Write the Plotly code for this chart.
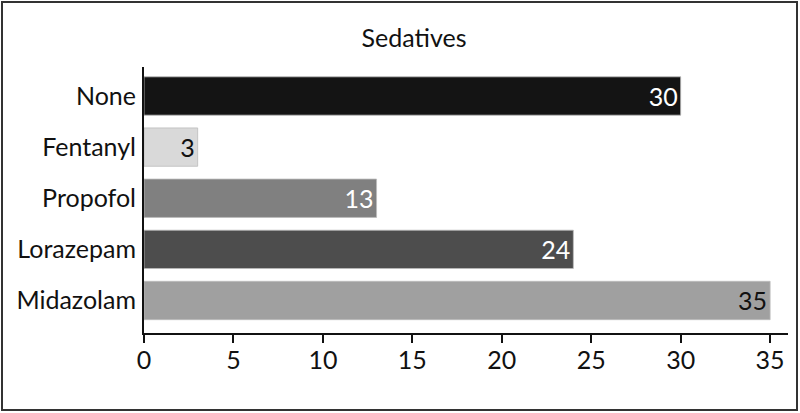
import plotly.graph_objects as go

categories = ["Midazolam", "Lorazepam", "Propofol", "Fentanyl", "None"]
values = [35, 24, 13, 3, 30]
bar_colors = ["#a0a0a0", "#4d4d4d", "#808080", "#d9d9d9", "#141414"]
label_colors = ["#111111", "#ffffff", "#ffffff", "#111111", "#ffffff"]
x_ticks = [0, 5, 10, 15, 20, 25, 30, 35]

W, H = 800, 413
ml, mr, mt, mb = 144, 12, 67, 80
pw, ph = W - ml - mr, H - mt - mb
FS = 25

fig = go.Figure(
    go.Bar(
        y=categories,
        x=values,
        orientation="h",
        marker=dict(color=bar_colors, line=dict(color="#bbbbbb", width=0.8)),
        width=0.75,
        text=[str(v) for v in values],
        textposition="inside",
        insidetextanchor="end",
        textfont=dict(color=label_colors, size=FS, family="Lato"),
        hoverinfo="skip",
    )
)

fig.update_layout(
    width=W,
    height=H,
    margin=dict(l=ml, r=mr, t=mt, b=mb),
    paper_bgcolor="white",
    plot_bgcolor="white",
    font=dict(family="Lato", size=FS, color="#111111"),
    title=dict(
        text="Sedatives",
        x=414 / W,
        xref="container",
        xanchor="center",
        y=1 - 38 / H,
        yref="container",
        yanchor="middle",
        font=dict(size=FS, family="Lato", color="#111111"),
    ),
    showlegend=False,
    xaxis=dict(
        range=[0, 36],
        tickvals=x_ticks,
        ticks="outside",
        ticklen=8,
        tickwidth=2,
        tickcolor="#111111",
        showline=True,
        linewidth=2,
        linecolor="#111111",
        showgrid=False,
        zeroline=False,
        ticklabelstandoff=-4,
        tickfont=dict(size=FS),
        automargin=False,
    ),
    yaxis=dict(
        range=[-0.636, 4.567],
        showline=True,
        linewidth=2,
        linecolor="#111111",
        showgrid=False,
        ticks="",
        ticklabelstandoff=1,
        tickfont=dict(size=FS),
        automargin=False,
    ),
    shapes=[
        dict(
            type="rect",
            xref="paper",
            yref="paper",
            x0=(2 - ml) / pw,
            x1=(797 - ml) / pw,
            y0=(H - 410 - mb) / ph,
            y1=(H - 2 - mb) / ph,
            line=dict(color="#333333", width=2),
            fillcolor="rgba(0,0,0,0)",
            layer="below",
        )
    ],
)

fig.write_html(
    "out.html",
    config={"displayModeBar": False},
    post_script="document.body.style.margin='0';document.body.style.padding='0';",
)
